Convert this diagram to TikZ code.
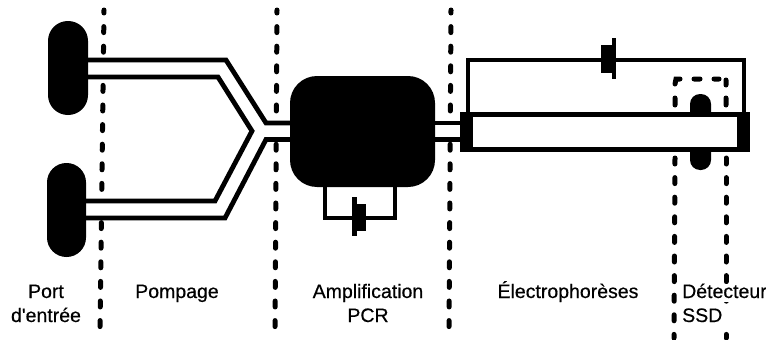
\documentclass[tikz,border=0pt]{standalone}
\usepackage{fontspec}
\setmainfont{Liberation Sans}
\newfontfamily\labfont{Liberation Sans}[FakeBold=0.5]
\tikzset{
  dotline/.style={line width=5pt,line cap=round,dash pattern=on 6pt off 13.6pt,dash phase=3pt},
  dotfree/.style={line width=5pt,line cap=round},
  wall/.style={line width=4.8pt,line join=miter},
  thin wall/.style={line width=4pt,line join=miter},
  solid block/.style={fill=black,draw=none,inner sep=0pt},
  lab/.style={font=\labfont\fontsize{19.5}{22}\selectfont,inner sep=0pt,anchor=base,text height=14pt,text depth=4pt},
  boxlab/.style={lab,anchor=base west,fill=white,text width=84pt,align=left,inner ysep=0pt},
}
\begin{document}
\begin{tikzpicture}[x=1pt,y=-1pt]
\useasboundingbox (0,0) rectangle (766,340);
% section dividers
\coordinate (d1t) at (104,10); \coordinate (d1b) at (100,329);
\coordinate (d2t) at (277,10); \coordinate (d2b) at (275,329);
\coordinate (d3t) at (451,10); \coordinate (d3b) at (449,329);
\draw[dotline] (d1t) -- (d1b);
\draw[dotline] (d2t) -- (d2b);
\draw[dotline] (d3t) -- (d3b);
\coordinate (d4t) at (675,158); \coordinate (d4b) at (674,338);
\coordinate (d5t) at (726,158); \coordinate (d5b) at (726,338);
\draw[dotline,dash phase=0pt] (d4t) -- (d4b);
\draw[dotline,dash phase=0pt] (d5t) -- (d5b);
% detector hood
\draw[dotfree] (675,98) -- (675,105) (675,84) -- (676,79) -- (680,79)
  (694,79) -- (700,79) (714,79) -- (719,79) (726,80) -- (726,85) (726,98) -- (726,105);
% detector
\node[solid block,minimum width=21pt,minimum height=76pt,rounded corners=10pt] (det) at (700.5,132) {};
% white channel bodies (mask the dividers)
\fill[white] (88,60) -- (226,60) -- (266,123) -- (290,123) -- (290,139.5) -- (266,139.5)
  -- (225,218) -- (86,218) -- (86,201) -- (215,201) -- (252,131) -- (218,77) -- (88,77) -- cycle;
\fill[white] (435,123) rectangle (460,140);
% ports and PCR chamber
\node[solid block,minimum width=40pt,minimum height=94pt,rounded corners=19.9pt] (port1) at (68,68) {};
\node[solid block,minimum width=39pt,minimum height=94pt,rounded corners=19.4pt] (port2) at (66.5,210) {};
\node[solid block,minimum width=145pt,minimum height=111pt,rounded corners=27pt] (pcr) at (362.5,131.5) {};
% channels
\draw[wall] (port1.east |- 0,60) -- (226,60) -- (266,123) -- (pcr.west |- 0,123);
\draw[wall] (port1.east |- 0,77) -- (218,77) -- (252,131) -- (215,201) -- (port2.east |- 0,201);
\draw[wall] (port2.east |- 0,218) -- (225,218) -- (266,139.5) -- (pcr.west |- 0,139.5);
% electrophoresis tube
\node[fill=black,draw=none,minimum width=290pt,minimum height=40pt,inner sep=0pt] (elec) at (605,132) {};
\fill[white] (473,117) rectangle (737,147);
\draw[wall] (pcr.east |- 0,123) -- (elec.west |- 0,123);
\draw[wall] (pcr.east |- 0,139.5) -- (elec.west |- 0,139.5);
% loops and valves
\draw[thin wall] (468,112) -- (468,59.5) -- (744,59.5) -- (744,112);
\fill (601,45) rectangle (613,73);
\fill (612,38) rectangle (615.5,79);
\draw[thin wall] (325,187) -- (325,217.5) -- (395,217.5) -- (395,187);
\fill (352,204) rectangle (366,231);
\fill (352,197) rectangle (357,236);
% labels
\node[lab] (l1a) at (46,298) {Port};
\node[lab] (l1b) at (46,322) {d'entrée};
\node[lab] (l2) at (177,298) {Pompage};
\node[lab] (l3a) at (368,298) {Amplification};
\node[lab] (l3b) at (368,322) {PCR};
\node[lab] (l4) at (568,298) {Électrophorèses};
\node[boxlab] (l5a) at (682,298) {Détecteur};
\node[boxlab] (l5b) at (682,322) {SSD};
\end{tikzpicture}
\end{document}
